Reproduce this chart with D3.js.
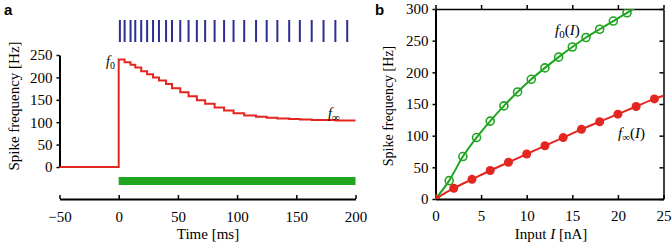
<!DOCTYPE html>
<html>
<head lang="en">
    <meta charset="UTF-8">
    <title></title>
    <script src="https://cdn.jsdelivr.net/npm/d3@7/dist/d3.min.js" charset="UTF-8"></script>
    <style>
        body{margin:0;background:#fff;}
        svg text{font-family:"Liberation Serif","DejaVu Serif",serif;}
        .domain{stroke:#000;stroke-width:2;}
        .tick line{stroke:#000;stroke-width:1.5;}
    </style>
</head>
<body>
<script>
    // panel a: spike train and instantaneous rate
    var spikeTimes=[1,5,10,14,19,24,29,34,40,45,52,59,66,73,81,89,97,106,116,125,134,144,153,163,173,183,193];
    var rateLevels=[240,234,228,222,214,207,200,193,185,176,167,158,149,141,133,126,120,115,112,110,108,107,106,105,105,104,104];
    var timeTicks=[-50,0,50,100,150,200];
    var rateTicksA=[0,50,100,150,200,250];

    // panel b: f-I curves
    var inputF0=[0,1.5,3,4.5,6,7.5,9,10.5,12,13.5,15,16.5,18,19.5,21];
    var valuesF0=[0,29,67,97,123,147,169,189,207,224,240,255,268,281,294];
    var inputFinf=[0,2,4,6,8,10,12,14,16,18,20,22,24];
    var valuesFinf=[0,17,31,45,58,71,84,97,110,122,134,146,158];
    var inputTicks=[0,5,10,15,20,25];
    var rateTicksB=[0,50,100,150,200,250,300];

    var red="#e3261f",green="#1fa51f",blue="#2d2e8f";
    var serif="Liberation Serif, DejaVu Serif, serif";

    var svg=d3.select("body").append("svg")
            .attr("width",672).attr("height",245);

    // tick label styling shared by all axes
    function serifTicks(g){
        g.attr("font-family",serif).attr("font-size",15);
        g.selectAll("text").attr("font-family",serif).style("font-family",serif).style("font-size","15px");
    }

    //---------- a ----------
    var xa=d3.scaleLinear().domain([-50,200]).range([59.5,355.5]);
    var ya=d3.scaleLinear().domain([0,250]).range([167,55]);

    svg.append("g")
            .attr("transform","translate(59.5,0)")
            .call(d3.axisLeft(ya).tickValues(rateTicksA).tickSizeInner(3).tickSizeOuter(0).tickPadding(4))
            .call(serifTicks);
    svg.append("g")
            .attr("transform","translate(0,199)")
            .call(d3.axisBottom(xa).tickValues(timeTicks).tickSizeInner(-4).tickSizeOuter(0).tickPadding(12))
            .call(serifTicks);

    svg.append("text").attr("transform","translate(18.5,106) rotate(-90)")
            .attr("text-anchor","middle").style("font-size","15px").text("Spike frequency [Hz]");
    svg.append("text").attr("x",208).attr("y",239)
            .attr("text-anchor","middle").style("font-size","15px").text("Time [ms]");

    // spikes
    svg.selectAll("line.spike").data(spikeTimes).enter().append("line")
            .attr("class","spike")
            .attr("x1",function(d){return xa(d);}).attr("x2",function(d){return xa(d);})
            .attr("y1",20).attr("y2",42)
            .attr("stroke",blue).attr("stroke-width",2);

    // staircase rate
    var stairs=[{t:-50,f:0},{t:0,f:0}];
    rateLevels.forEach(function(f,k){
        stairs.push({t:k===0?0:spikeTimes[k],f:f});
    });
    stairs.push({t:200,f:rateLevels[rateLevels.length-1]});
    svg.append("path").datum(stairs)
            .attr("fill","none").attr("stroke",red).attr("stroke-width",2)
            .attr("d",d3.line().curve(d3.curveStepAfter)
                    .x(function(d){return xa(d.t);})
                    .y(function(d){return ya(d.f);}));

    // stimulus bar
    svg.append("rect")
            .attr("x",xa(0)).attr("width",xa(200)-xa(0))
            .attr("y",177).attr("height",8)
            .attr("fill",green);

    var lab1=svg.append("text").attr("x",106).attr("y",66).style("font-size","14px");
    lab1.append("tspan").style("font-style","italic").text("f");
    lab1.append("tspan").attr("dy",3).style("font-size","10px").text("0");
    var lab2=svg.append("text").attr("x",328).attr("y",118).style("font-size","14px");
    lab2.append("tspan").style("font-style","italic").text("f");
    lab2.append("tspan").attr("dy",3).style("font-size","11px").text("∞");

    svg.append("text").attr("x",4).attr("y",15)
            .style("font-family","Liberation Sans").style("font-weight","bold").style("font-size","15px").text("a");

    //---------- b ----------
    var xb=d3.scaleLinear().domain([0,25]).range([435.5,663.5]);
    var yb=d3.scaleLinear().domain([0,300]).range([199,9]);

    svg.append("defs").append("clipPath").attr("id","clipb")
            .append("rect").attr("x",435.5).attr("y",9).attr("width",228).attr("height",190);

    var gb=svg.append("g");
    gb.append("g").attr("transform","translate(0,9)")
            .call(d3.axisTop(xb).tickValues(inputTicks).tickSizeInner(4).tickSizeOuter(0).tickFormat(""))
            .select(".domain").style("stroke-width",1.5);
    gb.append("g").attr("transform","translate(663.5,0)")
            .call(d3.axisRight(yb).tickValues(rateTicksB).tickSizeInner(-4).tickSizeOuter(0).tickFormat(""))
            .select(".domain").style("stroke-width",1.5);
    gb.append("g").attr("transform","translate(435.5,0)")
            .call(d3.axisLeft(yb).tickValues(rateTicksB).tickSizeInner(3).tickSizeOuter(0).tickPadding(4))
            .call(serifTicks);
    gb.append("g").attr("transform","translate(0,199)")
            .call(d3.axisBottom(xb).tickValues(inputTicks).tickSizeInner(-4).tickSizeOuter(0).tickPadding(11))
            .call(serifTicks);

    svg.append("text").attr("transform","translate(393,106) rotate(-90)")
            .attr("text-anchor","middle").style("font-size","14px").text("Spike frequency [Hz]");
    var xl=svg.append("text").attr("x",551).attr("y",239)
            .attr("text-anchor","middle").style("font-size","15px");
    xl.append("tspan").text("Input ");
    xl.append("tspan").style("font-style","italic").text("I");
    xl.append("tspan").text(" [nA]");

    var f0pts=inputF0.map(function(d,i){return {x:d,y:valuesF0[i]};});
    var finfpts=inputFinf.map(function(d,i){return {x:d,y:valuesFinf[i]};});
    var lineB=d3.line().curve(d3.curveMonotoneX)
            .x(function(d){return xb(d.x);}).y(function(d){return yb(d.y);});

    var plot=svg.append("g").attr("clip-path","url(#clipb)");
    plot.append("path").datum(f0pts.concat([{x:22.5,y:307}]))
            .attr("fill","none").attr("stroke",green).attr("stroke-width",2).attr("d",lineB);
    plot.append("path").datum(finfpts.concat([{x:25,y:163}]))
            .attr("fill","none").attr("stroke",red).attr("stroke-width",2).attr("d",lineB);
    plot.selectAll("circle.f0").data(f0pts).enter().append("circle")
            .attr("class","f0")
            .attr("cx",function(d){return xb(d.x);}).attr("cy",function(d){return yb(d.y);})
            .attr("r",4).attr("fill","none").attr("stroke",green).attr("stroke-width",1.6);
    plot.selectAll("circle.finf").data(finfpts).enter().append("circle")
            .attr("class","finf")
            .attr("cx",function(d){return xb(d.x);}).attr("cy",function(d){return yb(d.y);})
            .attr("r",4.5).attr("fill",red);

    var lab3=svg.append("text").attr("x",555).attr("y",35).style("font-size","15px");
    lab3.append("tspan").style("font-style","italic").text("f");
    lab3.append("tspan").attr("dy",3).style("font-size","11px").text("0");
    lab3.append("tspan").attr("dy",-3).text("(");
    lab3.append("tspan").style("font-style","italic").text("I");
    lab3.append("tspan").text(")");
    var lab4=svg.append("text").attr("x",618).attr("y",138).style("font-size","15px");
    lab4.append("tspan").style("font-style","italic").text("f");
    lab4.append("tspan").attr("dy",3).style("font-size","11px").text("∞");
    lab4.append("tspan").attr("dy",-3).text("(");
    lab4.append("tspan").style("font-style","italic").text("I");
    lab4.append("tspan").text(")");

    svg.append("text").attr("x",375).attr("y",15)
            .style("font-family","Liberation Sans").style("font-weight","bold").style("font-size","15px").text("b");
</script>
</body>
</html>
